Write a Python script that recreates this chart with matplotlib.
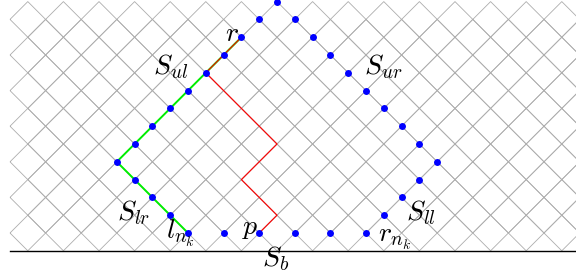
import matplotlib
matplotlib.use("Agg")
import matplotlib.pyplot as plt
from matplotlib.collections import LineCollection

plt.rcParams['mathtext.fontset'] = 'cm'

# lattice extent (diamond cells centred on points with i+j odd)
grid_cols = 32
grid_rows = 12

# blue lattice points along the boundary S
dots_x = [15, 16, 17, 18, 19, 20, 21, 22, 23, 24, 23, 22, 21, 20, 18, 16,
          14, 12, 10, 9, 8, 7, 6, 7, 8, 9, 10, 11, 12, 13, 14]
dots_y = [13, 12, 11, 10, 9, 8, 7, 6, 5, 4, 3, 2, 1, 0, 0, 0,
          0, 0, 0, 1, 2, 3, 4, 5, 6, 7, 8, 9, 10, 11, 12]

# green path l_{n_k} -> S_lr -> S_ul -> r
green_x = [10, 6, 13]
green_y = [0, 4, 11]

# red path r -> S_ul -> ... -> p
red_x = [13, 11, 15, 13, 15, 14]
red_y = [11, 9, 5, 3, 1, 0]

labels = [r'$r$', r'$S_{ul}$', r'$S_{ur}$', r'$S_{lr}$', r'$l_{n_k}$',
          r'$p$', r'$S_b$', r'$r_{n_k}$', r'$S_{ll}$']
label_x = [12.47, 9.0, 20.96, 6.95, 9.55, 13.48, 14.94, 21.63, 23.09]
label_y = [11.24, 9.33, 9.33, 1.12, 0.0, 0.34, -1.46, -0.28, 1.12]

fig = plt.figure(figsize=(5.76, 2.78), dpi=100)
ax = fig.add_axes([0, 0, 1, 1])

segs = []
for j in range(0, grid_rows + 1):
    for i in range(1, grid_cols + 1):
        if (i + j) % 2 == 1:
            segs.append([(i - 1, j), (i, j + 1), (i + 1, j), (i, j - 1), (i - 1, j)])
ax.add_collection(LineCollection(segs, colors='#adadad', linewidths=0.6, zorder=1))

ax.plot([0, grid_cols + 2], [-1, -1], color='black', lw=1.0, zorder=2)

ax.plot(green_x, green_y, color='#00ee00', lw=1.4, zorder=3)
ax.plot(red_x, red_y, color='red', lw=0.8, zorder=4)
ax.plot(dots_x, dots_y, 'o', color='blue', ms=5, mec='none', zorder=5)

for t, x, y in zip(labels, label_x, label_y):
    ax.text(x, y, t, fontsize=20, ha='center', va='center', zorder=6)

ax.set_xlim(-10 / 17.8, 566 / 17.8)
ax.set_ylim(-45 / 17.8, 233 / 17.8)
ax.axis('off')

fig.savefig('out.png', dpi=100)
